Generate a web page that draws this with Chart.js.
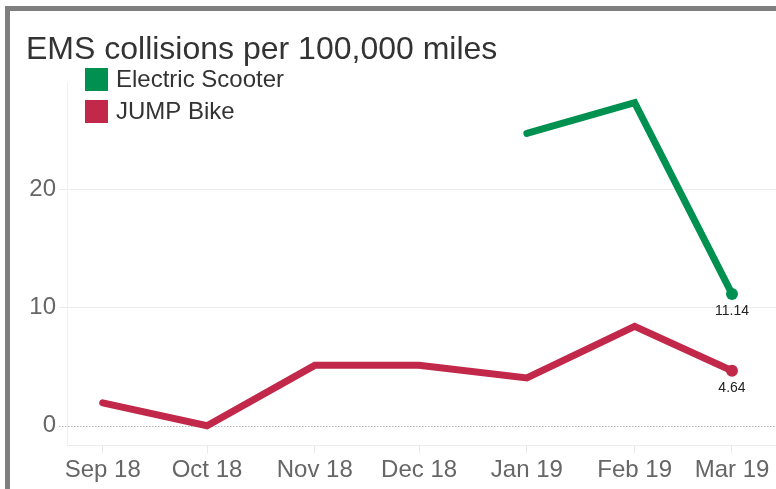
<!DOCTYPE html>
<html><head><meta charset="utf-8">
<script src="https://cdn.jsdelivr.net/npm/chart.js@4"></script>
<style>
html,body{margin:0;padding:0;background:#fff;overflow:hidden;width:776px;height:489px;}
#frame{position:absolute;left:5px;top:6px;width:900px;height:600px;border-top:5px solid #7f7f7f;border-left:5px solid #7f7f7f;}
#wrap{position:absolute;left:10px;top:11px;width:766px;height:478px;}
</style></head>
<body><div id="frame"></div><div id="wrap"><canvas id="c"></canvas></div>
<script>
// Month labels and their positions (days since 1 Sep 2018)
const months = ['Sep 18','Oct 18','Nov 18','Dec 18','Jan 19','Feb 19','Mar 19'];
const monthDays = [0, 30, 61, 91, 122, 153, 181];
// Series values (EMS collisions per 100,000 miles)
const scooterValues = [null, null, null, null, 24.7, 27.3, 11.14];
const jumpValues    = [1.93, 0.0, 5.1, 5.1, 4.04, 8.4, 4.64];
const yTicks = [0, 10, 20];
const seriesNames = ['Electric Scooter', 'JUMP Bike'];
const seriesColors = ['#009150', '#c1284a'];

const FONT = "'Liberation Sans', Arial, Helvetica, sans-serif";

function toPoints(vals) {
  const out = [];
  vals.forEach((v, i) => { if (v !== null) out.push({x: monthDays[i], y: v}); });
  return out;
}

function makeDataset(name, vals, color) {
  const pts = toPoints(vals);
  return {
    label: name,
    data: pts,
    borderColor: color,
    backgroundColor: color,
    borderWidth: 7,
    borderCapStyle: 'round',
    borderJoinStyle: 'miter',
    tension: 0,
    fill: false,
    pointRadius: ctx => ctx.dataIndex === pts.length - 1 ? 6 : 0,
    pointHoverRadius: 0,
    pointBorderWidth: 0,
    pointBackgroundColor: color
  };
}

const extras = {
  id: 'extras',
  beforeDatasetsDraw(chart) {
    const {ctx, chartArea, scales} = chart;
    const y0 = Math.round(scales.y.getPixelForValue(0)) + 0.5;
    ctx.save();
    ctx.strokeStyle = '#b5b5b5';
    ctx.lineWidth = 1;
    ctx.setLineDash([1.5, 1.5]);
    ctx.beginPath();
    ctx.moveTo(chartArea.left - 8, y0);
    ctx.lineTo(chartArea.right, y0);
    ctx.stroke();
    ctx.restore();
  },
  afterDraw(chart) {
    const {ctx, chartArea} = chart;
    ctx.save();
    // legend
    chart.data.datasets.forEach((ds, i) => {
      const bx = chartArea.left + 18;
      const by = chartArea.top - 14 + i * 32;
      ctx.fillStyle = ds.borderColor;
      ctx.fillRect(bx, by, 23, 23);
      ctx.fillStyle = '#333';
      ctx.font = '24px ' + FONT;
      ctx.textAlign = 'left';
      ctx.textBaseline = 'middle';
      ctx.fillText(ds.label, bx + 31, by + 12);
    });
    // end value labels
    chart.data.datasets.forEach((ds, i) => {
      const meta = chart.getDatasetMeta(i);
      const last = meta.data[meta.data.length - 1];
      const v = ds.data[ds.data.length - 1].y;
      ctx.fillStyle = '#222';
      ctx.font = '14px ' + FONT;
      ctx.textAlign = 'center';
      ctx.textBaseline = 'middle';
      ctx.fillText(v.toFixed(2), last.x, last.y + 17);
    });
    ctx.restore();
  }
};

new Chart(document.getElementById('c'), {
  type: 'line',
  data: {
    datasets: [
      makeDataset(seriesNames[0], scooterValues, seriesColors[0]),
      makeDataset(seriesNames[1], jumpValues, seriesColors[1])
    ]
  },
  plugins: [extras],
  options: {
    responsive: true,
    maintainAspectRatio: false,
    animation: false,
    devicePixelRatio: 1,
    events: [],
    layout: {autoPadding: false, padding: {left: 16, top: 0, right: 0, bottom: 1}},
    plugins: {
      legend: {display: false},
      tooltip: {enabled: false},
      title: {
        display: true,
        text: 'EMS collisions per 100,000 miles',
        align: 'start',
        color: '#333',
        font: {family: FONT, size: 32, weight: 'normal', lineHeight: 1.2},
        padding: {top: 20, bottom: 12.6}
      }
    },
    scales: {
      x: {
        type: 'linear',
        min: -10.27,
        max: 193.66,
        afterBuildTicks: s => { s.ticks = monthDays.map(v => ({value: v})); },
        afterFit: s => { s.paddingLeft = 0; s.paddingRight = 0; },
        ticks: {
          callback: v => months[monthDays.indexOf(v)],
          color: '#666',
          font: {family: FONT, size: 24},
          padding: 3,
          maxRotation: 0,
          autoSkip: false
        },
        grid: {drawOnChartArea: false, drawTicks: true, tickLength: 8, color: '#e8e8e8'},
        border: {color: '#ececec'}
      },
      y: {
        min: -1.65,
        max: 29.05,
        afterBuildTicks: s => { s.ticks = yTicks.map(v => ({value: v})); },
        afterFit: s => { s.width = 41; },
        ticks: {
          color: '#666',
          font: {family: FONT, size: 24},
          padding: 3
        },
        grid: {
          color: c => (c.tick && c.tick.value === 0) ? 'rgba(0,0,0,0)' : '#ebebeb',
          tickLength: 8
        },
        border: {color: '#f0f0f0'}
      }
    }
  }
});
</script>
</body></html>
